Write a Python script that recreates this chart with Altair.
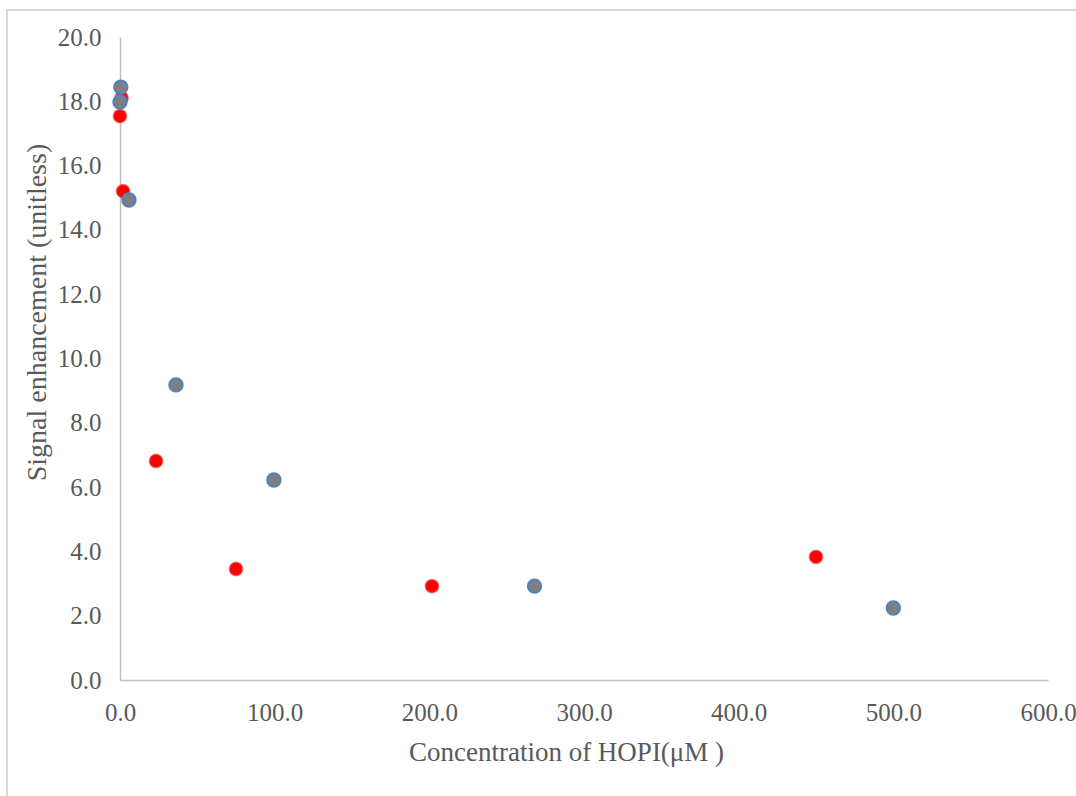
import altair as alt
import pandas as pd

# Series A (red markers)
red_conc = [0.0, 1.0, 2.0, 23.3, 75.0, 201.7, 450.0]
red_signal = [17.54, 18.1, 15.2, 6.81, 3.45, 2.92, 3.83]

# Series B (grey markers with blue outline)
blue_conc = [0.5, 0.0, 5.8, 36.2, 99.5, 268.0, 500.0]
blue_signal = [18.44, 17.98, 14.93, 9.18, 6.22, 2.92, 2.24]

x_ticks = [0, 100, 200, 300, 400, 500, 600]
y_ticks = [0, 2, 4, 6, 8, 10, 12, 14, 16, 18, 20]

red_df = pd.DataFrame({"conc": red_conc, "signal": red_signal})
blue_df = pd.DataFrame({"conc": blue_conc, "signal": blue_signal})

FONT = "Liberation Serif"
TXT = "#595959"

x_enc = alt.X(
    "conc:Q",
    scale=alt.Scale(domain=[0, 600], nice=False, zero=False),
    axis=alt.Axis(
        values=x_ticks, format=".1f", title="Concentration of HOPI(μM )",
        grid=False, ticks=False, domainColor="#bfbfbf", domainWidth=1.5,
        labelFlush=False, labelOverlap=False,
        labelFont=FONT, labelFontSize=25, labelColor=TXT, labelPadding=20,
        titleFont=FONT, titleFontSize=27, titleColor=TXT, titleFontWeight="normal",
        titleX=446, titleY=72, titleBaseline="middle", titleAlign="center",
    ),
)
y_enc = alt.Y(
    "signal:Q",
    scale=alt.Scale(domain=[0, 20], nice=False),
    axis=alt.Axis(
        values=y_ticks, format=".1f", title="Signal enhancement (unitless)",
        grid=False, ticks=False, domainColor="#bfbfbf", domainWidth=1.5,
        labelFlush=False, labelOverlap=False,
        labelFont=FONT, labelFontSize=25, labelColor=TXT, labelPadding=19,
        titleFont=FONT, titleFontSize=28, titleColor=TXT, titleFontWeight="normal",
        titleX=-83, titleY=275, titleAngle=-90, titleBaseline="middle", titleAlign="center",
    ),
)

# Thin grey border around the whole chart area
frame = alt.Chart(pd.DataFrame({"k": [0]})).mark_rect(
    fill="white", fillOpacity=0, stroke="#d9d9d9", strokeWidth=2
).encode(
    x=alt.value(-113), x2=alt.value(1000), y=alt.value(-27), y2=alt.value(800)
)

red = alt.Chart(red_df).mark_point(
    filled=True, shape="circle", size=180, fill="#ff0000", fillOpacity=1,
    stroke="#e05050", strokeWidth=1.5, strokeOpacity=0.6,
).encode(x=x_enc, y=y_enc)

blue = alt.Chart(blue_df).mark_point(
    filled=True, shape="circle", size=180, fill="#7f7f7f", fillOpacity=1,
    stroke="#4f81c7", strokeWidth=2, strokeOpacity=1,
).encode(x=x_enc, y=y_enc)

chart = alt.layer(frame, red, blue).properties(
    width=928, height=643,
    autosize=alt.AutoSizeParams(type="none"),
    padding={"left": 120, "top": 37, "right": 28, "bottom": 116},
    background="white",
).configure_view(stroke=None)

chart.save("out.html", embed_options={"renderer": "svg", "actions": False})
